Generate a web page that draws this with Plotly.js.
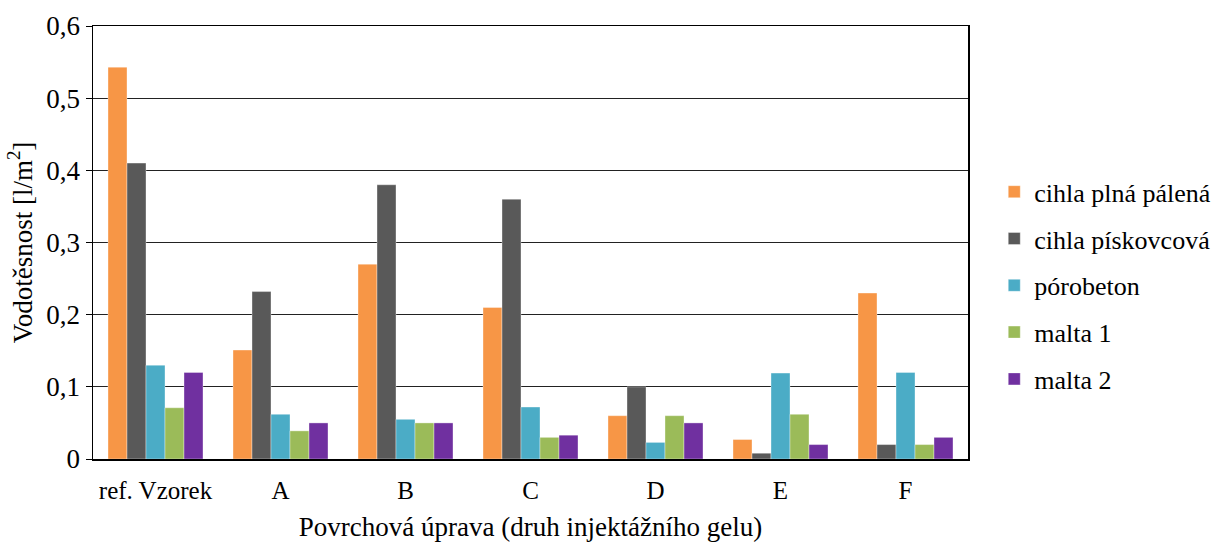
<!DOCTYPE html>
<html>
<head>
<meta charset="utf-8">
<script src="https://cdn.plot.ly/plotly-3.0.1.min.js"></script>
<style>body{margin:0;padding:0;background:#fff;}#chart{width:1214px;height:543px;}</style>
</head>
<body>
<div id="chart"></div>
<script>
const categories = ["ref. Vzorek", "A", "B", "C", "D", "E", "F"];
const seriesNames = ["cihla plná pálená", "cihla pískovcová", "pórobeton", "malta 1", "malta 2"];
const cihlaPlnaPalena = [0.543, 0.151, 0.27, 0.21, 0.06, 0.027, 0.23];
const cihlaPiskovcova = [0.41, 0.232, 0.38, 0.36, 0.1, 0.008, 0.02];
const porobeton = [0.13, 0.062, 0.055, 0.072, 0.023, 0.119, 0.12];
const malta1 = [0.071, 0.039, 0.05, 0.03, 0.06, 0.062, 0.02];
const malta2 = [0.12, 0.05, 0.05, 0.033, 0.05, 0.02, 0.03];
const seriesValues = [cihlaPlnaPalena, cihlaPiskovcova, porobeton, malta1, malta2];
const colors = ["#F79646", "#595959", "#4BACC6", "#9BBB59", "#7030A0"];

const traces = seriesNames.map((n, i) => ({
  type: "bar",
  name: n,
  legendgroup: "g" + i,
  x: categories,
  y: seriesValues[i],
  marker: {color: colors[i], line: {color: "rgba(255,255,255,0.6)", width: 0.6}},
  hoverinfo: "y"
}));

const FAM = "Liberation Serif";
const f = (s) => ({family: FAM, size: s, color: "#000"});

const layout = {
  width: 1214, height: 543,
  margin: {l: 93, r: 246, t: 26, b: 84, autoexpand: false},
  paper_bgcolor: "#fff", plot_bgcolor: "#fff",
  separators: ", ",
  barmode: "group",
  bargap: 0.24,
  bargroupgap: 0,
  font: f(26),
  showlegend: true,
  legend: {
    x: 1.03, xanchor: "left", y: 0.40, yanchor: "middle",
    font: f(26),
    tracegroupgap: 10, itemwidth: 30,
    bgcolor: "rgba(0,0,0,0)"
  },
  xaxis: {
    type: "category",
    showline: true, linecolor: "#000", linewidth: 1.5, mirror: true,
    ticks: "", showgrid: false,
    ticklabelstandoff: 8,
    tickfont: f(25),
    title: {text: "Povrchová úprava (druh injektážního gelu)", font: f(27), standoff: 14},
    fixedrange: true
  },
  yaxis: {
    range: [0, 0.6], dtick: 0.1, tick0: 0,
    showline: true, linecolor: "#000", linewidth: 1.5, mirror: true,
    ticks: "outside", ticklen: 6, tickcolor: "#000",
    showgrid: true, gridcolor: "#222", gridwidth: 1,
    zeroline: false,
    tickfont: f(27),
    title: {text: "Vodotěsnost [l/m<sup>2</sup>]", font: f(27), standoff: 6},
    fixedrange: true
  }
};

Plotly.newPlot("chart", traces, layout, {displayModeBar: false, staticPlot: true});
</script>
</body>
</html>
